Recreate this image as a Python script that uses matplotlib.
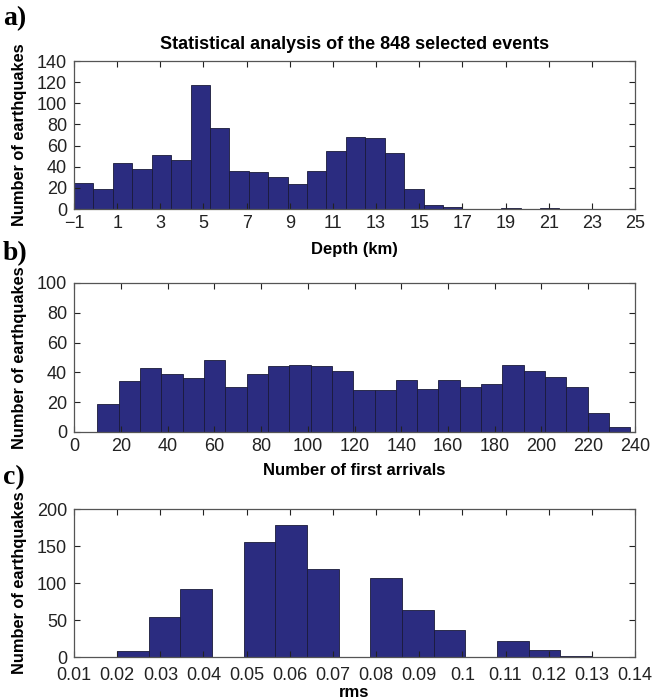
import numpy as np
import matplotlib.pyplot as plt

plt.rcParams['font.family'] = ['Liberation Sans', 'DejaVu Sans']

# histogram counts, 848 events in each panel
depth_start, depth_step = -1.0, 0.9
depth_counts = [25, 19, 44, 38, 51, 46, 117, 77, 36, 35, 30, 24, 36, 55, 68,
                67, 53, 19, 4, 2, 0, 0, 1, 0, 1, 0, 0, 0, 0]

arrivals_start, arrivals_step = 10.0, 9.12
arrivals_counts = [19, 34, 43, 39, 36, 48, 30, 39, 44, 45, 44, 41, 28, 28, 35,
                   29, 35, 30, 32, 45, 41, 37, 30, 13, 3]

rms_start, rms_step = 0.02, 0.11 / 15
rms_counts = [8, 54, 92, 0, 156, 178, 119, 0, 107, 64, 37, 0, 21, 10, 2]

bar_color = "#2b2c80"
edge_color = "#555555"

fig = plt.figure(figsize=(6.62, 7.0), dpi=100)
ax_a = fig.add_axes([0.1118, 0.7014, 0.8474, 0.2114])
ax_b = fig.add_axes([0.1118, 0.3829, 0.8474, 0.2129])
ax_c = fig.add_axes([0.1118, 0.0614, 0.8474, 0.2114])


def draw_hist(ax, start, step, counts):
    left = start + step * np.arange(len(counts))
    ax.bar(left, counts, width=step, align="edge", color=bar_color,
           edgecolor="#1a1a3a", linewidth=0.6)


draw_hist(ax_a, depth_start, depth_step, depth_counts)
draw_hist(ax_b, arrivals_start, arrivals_step, arrivals_counts)
draw_hist(ax_c, rms_start, rms_step, rms_counts)

ax_a.set_xlim(-1, 25)
ax_a.set_ylim(0, 140)
ax_a.set_xticks(np.arange(-1, 26, 2))
ax_a.set_xticklabels(["\u22121"] + [str(v) for v in range(1, 26, 2)])
ax_a.set_yticks(np.arange(0, 141, 20))

ax_b.set_xlim(0, 240)
ax_b.set_ylim(0, 100)
ax_b.set_xticks(np.arange(0, 241, 20))
ax_b.set_yticks(np.arange(0, 101, 20))

ax_c.set_xlim(0.01, 0.14)
ax_c.set_ylim(0, 200)
rms_ticks = [0.01, 0.02, 0.03, 0.04, 0.05, 0.06, 0.07, 0.08, 0.09, 0.1,
             0.11, 0.12, 0.13, 0.14]
ax_c.set_xticks(rms_ticks)
ax_c.set_xticklabels([f"{v:g}" for v in rms_ticks])
ax_c.set_yticks(np.arange(0, 201, 50))

xlabels = ["Depth (km)", "Number of first arrivals", "rms"]
xlabel_y = [-0.22, -0.208, -0.188]
xpads = [4.5, 4.5, 7]
for ax, xl, ly, xp in zip([ax_a, ax_b, ax_c], xlabels, xlabel_y, xpads):
    ax.tick_params(direction="in", length=4, width=0.8, top=True, right=True,
                   labelsize=13, colors="#222222")
    ax.tick_params(axis="x", pad=xp)
    ax.tick_params(axis="y", pad=5)
    for sp in ax.spines.values():
        sp.set_color(edge_color)
        sp.set_linewidth(0.9)
    ax.set_xlabel(xl, fontsize=12, fontweight="bold")
    ax.xaxis.set_label_coords(0.5, ly)
    ax.set_ylabel("Number of earthquakes", fontsize=11.8, fontweight="bold")
    ax.yaxis.set_label_coords(-0.083, 0.5)

ax_a.set_title("Statistical analysis of the 848 selected events",
               fontsize=13, fontweight="bold", pad=9)

for lbl, y in [("a)", 0.974), ("b)", 0.638), ("c)", 0.318)]:
    fig.text(0.004, y, lbl, fontsize=20, fontweight="bold",
             family="Liberation Serif", va="center")

plt.savefig("out.png", dpi=100)
